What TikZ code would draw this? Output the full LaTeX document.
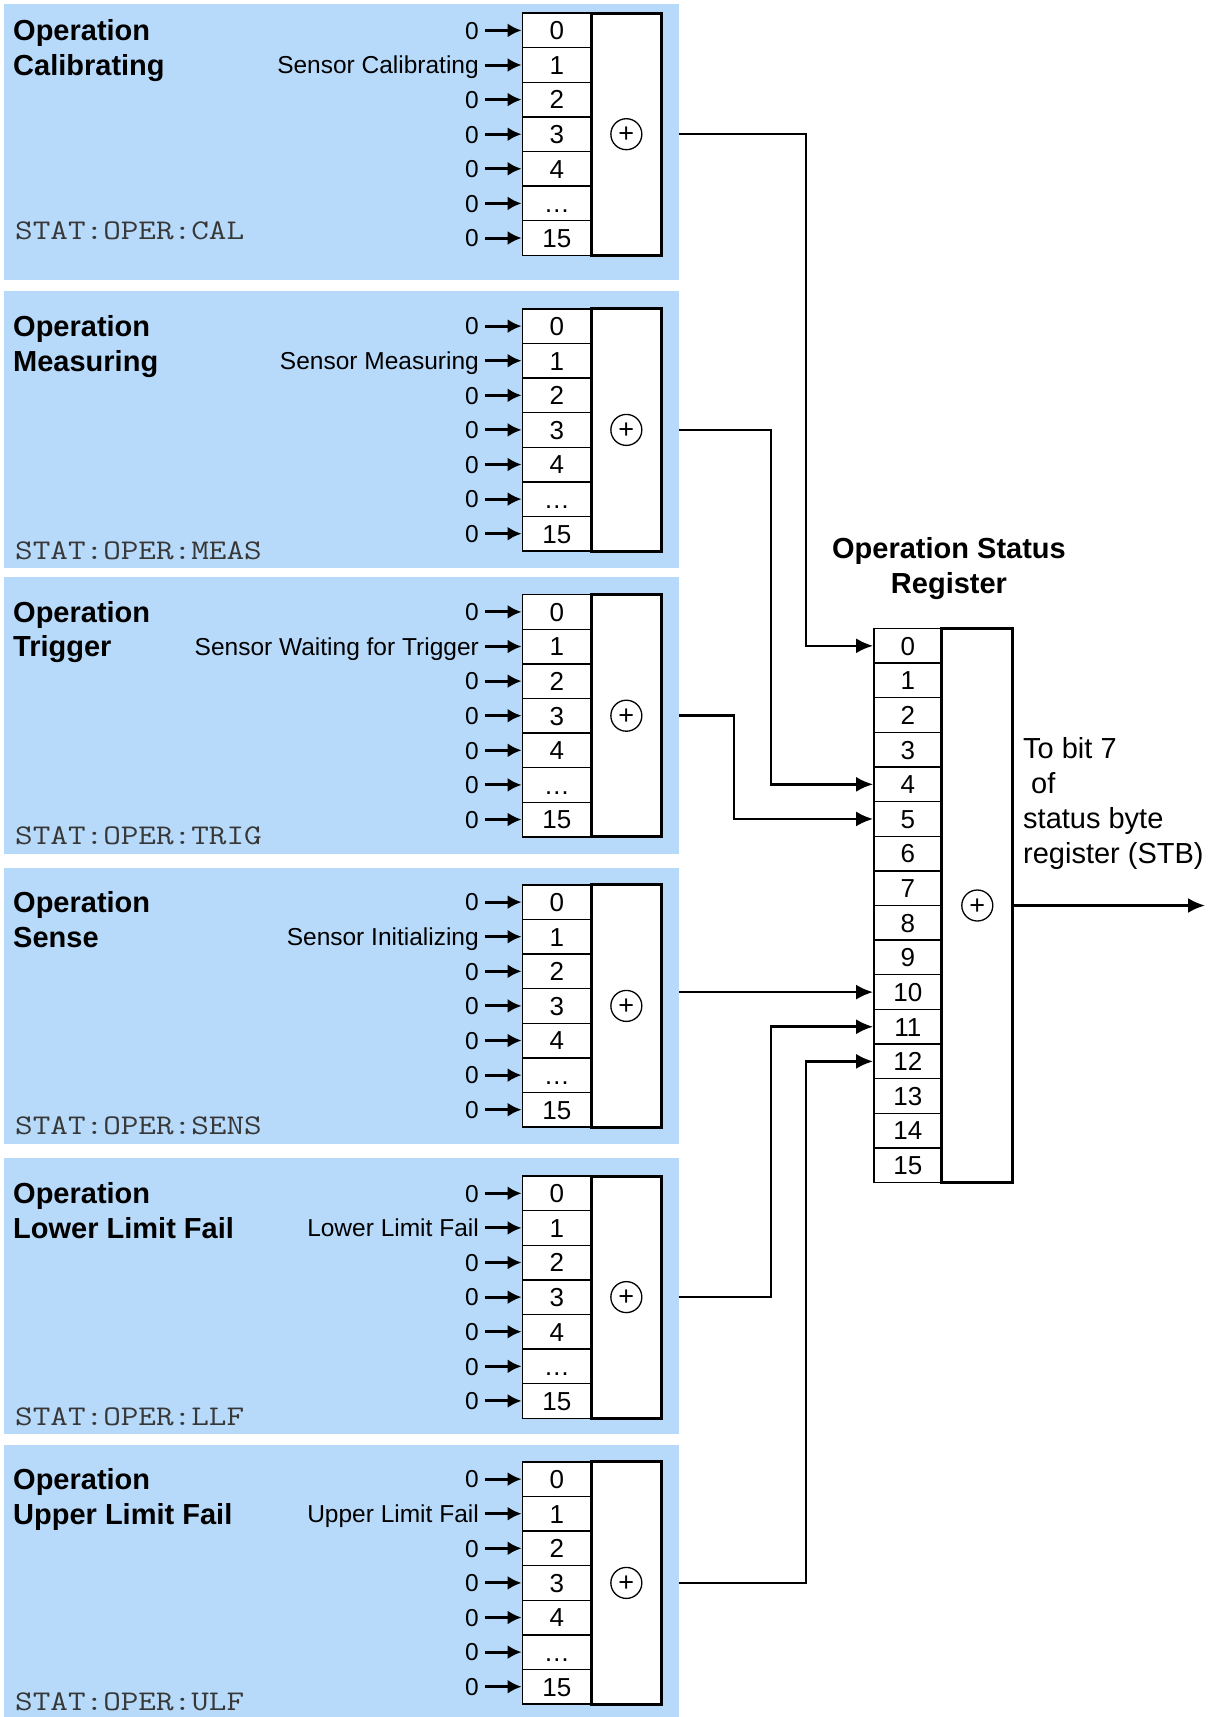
\documentclass[tikz,border=0pt]{standalone}
\usepackage{fontspec}
\setmainfont{Liberation Sans}
\usetikzlibrary{arrows.meta,calc}
\definecolor{panelblue}{RGB}{184,218,250}
\definecolor{statgray}{RGB}{55,55,55}
\newcommand{\statwide}[1]{\scalebox{1.2}[1]{#1}}
\begin{document}
\begin{tikzpicture}[x=1pt,y=-1pt,
  panel/.style={fill=panelblue},
  cell/.style={draw,fill=white,line width=1.4pt,minimum width=69pt,minimum height=34.6pt,inner sep=0pt,text height=18.6pt,text depth=0pt,font=\fontsize{26}{26}\selectfont},
  rcell/.style={cell,minimum width=67.9pt,minimum height=34.63pt},
  sumbox/.style={draw,fill=white,line width=3pt,inner sep=0pt},
  plus/.style={draw,circle,line width=1.3pt,minimum size=31pt,inner sep=0pt,text height=17pt,text depth=0pt,font=\fontsize{27}{27}\selectfont},
  inlbl/.style={anchor=base east,inner sep=0pt,font=\fontsize{24.5}{24.5}\selectfont},
  inarrow/.style={line width=3pt,-{Latex[length=14pt,width=14pt]},shorten <=6pt},
  title/.style={anchor=base west,inner sep=0pt,font=\bfseries\fontsize{29}{29}\selectfont},
  stat/.style={anchor=base west,inner sep=0pt,text=statgray,font=\ttfamily\fontsize{28.5}{28.5}\selectfont},
  conn/.style={line width=2.5pt,-{Latex[length=17pt,width=15pt]}},
  rtxt/.style={anchor=base west,inner sep=0pt,font=\fontsize{29}{29}\selectfont},
  rtitle/.style={anchor=base,inner sep=0pt,font=\bfseries\fontsize{29}{29}\selectfont},
]
\useasboundingbox (0,0) rectangle (1211,1717);

\foreach \p/\ct/\pt/\pb/\ttl/\lbl/\st/\sy in {
  1/13.1/4.4/280/Calibrating/Sensor Calibrating/CAL/231,
  2/308.8/291/568/Measuring/Sensor Measuring/MEAS/551,
  3/594.6/577/854/Trigger/Sensor Waiting for Trigger/TRIG/836,
  4/884.8/868/1144/Sense/Sensor Initializing/SENS/1126,
  5/1176/1158/1434/Lower Limit Fail/Lower Limit Fail/LLF/1417,
  6/1461.8/1445/1717/Upper Limit Fail/Upper Limit Fail/ULF/1702}{
  \path[panel] (4.4,\pt) rectangle (679,\pb);
  \node[title] (ta\p) at (13,{\ct+17.3+10.4}) {Operation};
  \node[title] (tb\p) at (13,{\ct+51.9+10.4}) {\ttl};
  \node[stat] (st\p) at (15,{\sy+8.5}) {\statwide{STAT:OPER:\st}};
  \foreach \i/\t/\l in {0/0/0,1/1/\lbl,2/2/0,3/3/0,4/4/0,5/{\ldots}/0,6/15/0}{
    \node[cell] (c\p-\i) at (556.8,{\ct+17.3+\i*34.6}) {\t};
    \node[inlbl] (l\p-\i) at (479,{\ct+17.3+\i*34.6+8.8}) {\l};
    \draw[inarrow] (l\p-\i.east |- c\p-\i.west) -- (c\p-\i.west);
  }
  \node[sumbox,minimum width=70.1pt,minimum height=242.2pt] (s\p) at (626.35,{\ct+121.1}) {};
  \node[plus] (pl\p) at (s\p) {+};
  \coordinate (E\p) at (679,{\ct+121.1});
}

% Operation status register
\node[rtitle] (rt1) at (949,558) {Operation Status};
\node[rtitle] (rt2) at (949,593) {Register};
\foreach \i in {0,...,15}{
  \node[rcell] (r\i) at (907.75,{628.5+17.3+\i*34.63}) {\i};
}
\node[sumbox,minimum width=71.2pt,minimum height=554.1pt] (rbox) at (977.3,905.5) {};
\node[plus] (rpl) at (rbox) {+};

% connectors
\draw[conn] (E1) -- ++(127,0) |- (r0.west);
\draw[conn] (E2) -- ++(92,0) |- (r4.west);
\draw[conn] (E3) -- ++(55,0) |- (r5.west);
\draw[conn] (E4 |- r10.west) -- (r10.west);
\draw[conn] (E5) -- ++(92,0) |- (r11.west);
\draw[conn] (E6) -- ++(127,0) |- (r12.west);

\coordinate (stb) at (1205,905.5);
\draw[conn] (rbox.east) -- (stb);
\node[rtxt] (o1) at (1023,758) {To bit 7};
\node[rtxt] (o2) at (1031,793) {of};
\node[rtxt] (o3) at (1023,828) {status byte};
\node[rtxt] (o4) at (1023,863) {register (STB)};
\end{tikzpicture}
\end{document}
